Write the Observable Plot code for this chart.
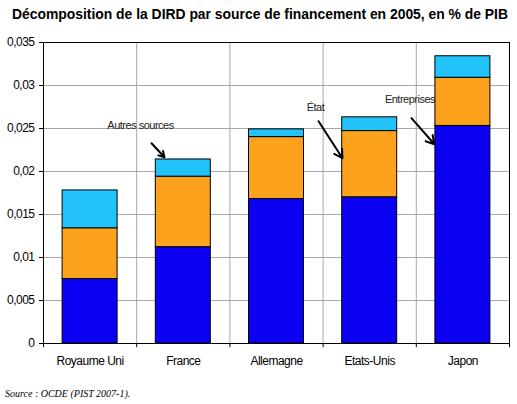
<!DOCTYPE html>
<html>
<head>
<meta charset="utf-8">
<script src="https://cdn.jsdelivr.net/npm/d3@7"></script>
<script src="https://cdn.jsdelivr.net/npm/@observablehq/plot@0.6"></script>
<style>
  html, body { margin: 0; padding: 0; background: #fff; }
  #page { position: relative; width: 517px; height: 404px; overflow: hidden; background: #fff; }
  #title { position: absolute; left: 12px; top: 5px; font: bold 15px "Liberation Sans", Arial, sans-serif; white-space: nowrap; transform-origin: 0 0; color: #000; }
  #chart { position: absolute; left: 0; top: 28px; }
  #chart svg text { letter-spacing: -0.5px; }
  #source { position: absolute; left: 5px; top: 388px; font: italic 10px "Liberation Serif", "Times New Roman", serif; white-space: nowrap; color: #000; }
</style>
</head>
<body>
<div id="page">
  <div id="title">Décomposition de la DIRD par source de financement en 2005, en % de PIB</div>
  <div id="chart"></div>
  <div id="source">Source : OCDE (PIST 2007-1).</div>
</div>
<script>
// ---- data ----
const categories = ["Royaume Uni", "France", "Allemagne", "Etats-Unis", "Japon"];
const seriesNames = ["Entreprises", "État", "Autres sources"];
const entreprises = [0.0075, 0.0112, 0.0168, 0.0170, 0.0253];
const etat        = [0.0059, 0.0082, 0.0072, 0.0077, 0.0056];
const autres      = [0.0044, 0.0020, 0.0009, 0.0016, 0.0025];
const yTicks  = [0, 0.005, 0.01, 0.015, 0.02, 0.025, 0.03, 0.035];
const yLabels = ["0", "0,005", "0,01", "0,015", "0,02", "0,025", "0,03", "0,035"];
const annotationLabels = ["Autres sources", "État", "Entreprises"];
// annotation anchors in data units (x = category index, y = value)
const annTextX = [0.541, 2.418, 3.432];
const annTextY = [0.02538, 0.02748, 0.02841];
const annFromX = [0.659, 2.451, 3.448];
const annFromY = [0.02329, 0.02585, 0.02620];
const annToX   = [0.798, 2.708, 3.695];
const annToY   = [0.02166, 0.02155, 0.02317];

// ---- styles ----
const seriesColors = ["#0c00f2", "#fca21c", "#22c2fa"];
const gridColor = "#a8a8a8";
const halfBar = 0.295;

// ---- tables built from the arrays ----
const seriesValues = [entreprises, etat, autres];
const rows = [];
categories.forEach((c, i) => {
  let base = 0;
  seriesNames.forEach((s, k) => {
    const v = seriesValues[k][i];
    rows.push({i, category: c, series: s, y1: base, y2: base + v});
    base += v;
  });
});
const boundaries = d3.range(categories.length + 1).map(k => k - 0.5);
const innerBoundaries = boundaries.slice(1, -1);
const annotations = annotationLabels.map((t, k) => ({
  label: t, tx: annTextX[k], ty: annTextY[k],
  x1: annFromX[k], y1: annFromY[k], x2: annToX[k], y2: annToY[k]
}));

const chart = Plot.plot({
  width: 517,
  height: 356,
  marginLeft: 43,
  marginRight: 8,
  marginTop: 14,
  marginBottom: 41,
  style: {fontFamily: "'Liberation Sans', Arial, sans-serif", fontSize: "12px", color: "#000", background: "#fff", overflow: "visible"},
  x: {domain: [-0.5, categories.length - 0.5], ticks: categories.map((_, i) => i), tickFormat: i => categories[i], tickSize: 0, tickPadding: 13, label: null},
  y: {domain: [0, 0.035], ticks: yTicks, tickFormat: d => yLabels[yTicks.indexOf(d)], tickSize: 4, tickPadding: 5, label: null},
  color: {domain: seriesNames, range: seriesColors},
  marks: [
    Plot.ruleY(yTicks.slice(1, -1), {stroke: gridColor, strokeWidth: 1}),
    Plot.ruleX(innerBoundaries, {stroke: gridColor, strokeWidth: 1}),
    Plot.rect(rows, {x1: d => d.i - halfBar, x2: d => d.i + halfBar, y1: "y1", y2: "y2", fill: "series", stroke: "#000", strokeWidth: 1}),
    Plot.ruleX(boundaries, {y1: 0, y2: -0.00048, stroke: "#000", strokeWidth: 1}),
    Plot.frame({stroke: "#000", strokeWidth: 1}),
    Plot.arrow(annotations, {x1: "x1", y1: "y1", x2: "x2", y2: "y2", stroke: "#000", strokeWidth: 2, headLength: 7}),
    Plot.text(annotations, {x: "tx", y: "ty", text: "label", fontSize: 11, fill: "#222"})
  ]
});
document.getElementById("chart").appendChild(chart);

// fit the title to the reference width
const title = document.getElementById("title");
const w = title.getBoundingClientRect().width;
title.style.transform = `scaleX(${496 / w})`;
</script>
</body>
</html>
